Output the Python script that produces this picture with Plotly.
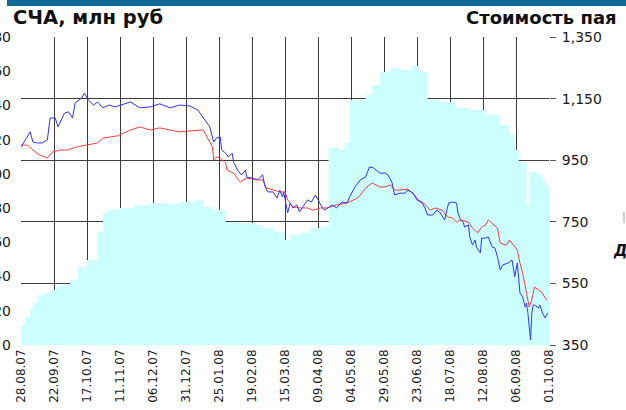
import plotly.graph_objects as go
from datetime import datetime, timedelta

# ---------------- data ----------------
start_date = "28.08.07"
tick_labels = ["28.08.07", "22.09.07", "17.10.07", "11.11.07", "06.12.07", "31.12.07",
               "25.01.08", "19.02.08", "15.03.08", "09.04.08", "04.05.08", "29.05.08",
               "23.06.08", "18.07.08", "12.08.08", "06.09.08", "01.10.08"]

left_ticks = [0, 20, 40, 60, 80, 100, 120, 140, 160, 180]
right_ticks = [350, 550, 750, 950, 1150, 1350]
right_tick_labels = ["350", "550", "750", "950", "1,150", "1,350"]

# СЧА, млн руб (area, left axis) — days since start_date
nav_days = [0, 3, 7, 9, 13, 17, 22, 26, 31, 37, 43, 50, 58, 62, 65, 75, 86, 98, 109, 120,
            132, 138, 145, 155, 166, 177, 183, 192, 200, 204, 211, 219, 227, 233, 242, 245,
            249, 261, 266, 272, 280, 287, 296, 302, 308, 317, 329, 340, 352, 363, 370, 374,
            377, 383, 385, 392, 395, 397, 400]
nav_values = [11.7, 16.4, 21.6, 24.5, 29.2, 30.4, 32.1, 33.9, 35.1, 38.0, 45.6, 49.7, 66.0,
              77.1, 78.9, 80.1, 81.8, 83.0, 82.4, 83.6, 84.7, 80.6, 78.9, 71.9, 71.3, 70.1,
              68.4, 66.0, 61.4, 64.3, 65.5, 68.4, 69.0, 115.1, 114.0, 118.0, 143.2, 146.1,
              152.0, 159.5, 161.9, 160.7, 163.0, 159.5, 143.2, 142.0, 138.5, 137.3, 134.4,
              128.6, 122.7, 114.0, 107.0, 81.8, 101.0, 99.3, 96.4, 93.5, 91.7]

# Стоимость пая (blue line, right axis)
blue_days = [0, 7, 9, 12, 16, 20, 22, 26, 28, 31, 33, 36, 39, 41, 46, 48, 51, 55, 58, 62,
             67, 71, 75, 83, 90, 98, 105, 113, 120, 128, 134, 139, 143, 145, 146, 148, 151,
             152, 155, 157, 160, 161, 164, 167, 170, 171, 175, 179, 183, 185, 187, 191, 194,
             196, 198, 199, 202, 204, 206, 209, 211, 217, 220, 223, 225, 228, 230, 233, 236,
             239, 243, 247, 249, 253, 257, 261, 264, 267, 272, 276, 278, 281, 283, 287, 291,
             293, 297, 300, 304, 306, 308, 312, 315, 317, 321, 323, 324, 327, 330, 331, 333,
             335, 336, 339, 340, 342, 344, 345, 348, 349, 352, 354, 357, 359, 361, 363, 365,
             369, 372, 373, 374, 376, 377, 378, 380, 382, 383, 384, 386, 387, 388, 389, 392,
             393, 395, 397, 399]
blue_values = [993, 1042, 1009, 1006, 1006, 1016, 1087, 1087, 1058, 1087, 1103, 1107, 1087,
               1136, 1152, 1168, 1145, 1129, 1139, 1120, 1129, 1123, 1129, 1139, 1120, 1123,
               1133, 1120, 1129, 1126, 1113, 1081, 1058, 1025, 1009, 1022, 1025, 983, 973,
               960, 973, 944, 918, 902, 918, 895, 892, 886, 902, 863, 847, 847, 827, 853,
               831, 847, 779, 811, 795, 805, 782, 821, 814, 837, 821, 798, 788, 798, 805,
               795, 814, 811, 831, 863, 886, 895, 928, 925, 908, 908, 902, 879, 837, 843,
               843, 853, 843, 821, 811, 795, 772, 772, 788, 782, 756, 795, 811, 814, 811,
               779, 756, 749, 733, 740, 701, 675, 691, 668, 649, 697, 697, 701, 668, 665,
               636, 594, 610, 616, 626, 600, 571, 616, 551, 519, 506, 473, 486, 454, 366,
               454, 480, 480, 470, 480, 454, 438, 454]

# Индекс (red line, right axis)
red_days = [0, 5, 9, 14, 20, 24, 30, 35, 42, 51, 58, 62, 67, 73, 83, 90, 98, 105, 113, 120,
            128, 138, 141, 145, 146, 148, 151, 155, 156, 161, 166, 171, 179, 183, 186, 191,
            196, 200, 202, 206, 211, 217, 221, 227, 232, 239, 247, 255, 262, 266, 272, 276,
            280, 283, 287, 293, 297, 301, 305, 310, 314, 319, 323, 327, 330, 333, 339, 342,
            346, 349, 352, 354, 358, 361, 363, 367, 369, 370, 373, 376, 378, 380, 383, 385,
            387, 389, 392, 395, 397, 399]
red_values = [999, 999, 983, 967, 957, 977, 983, 983, 993, 999, 1006, 1022, 1025, 1029,
              1048, 1058, 1048, 1055, 1048, 1042, 1045, 1048, 1025, 993, 951, 960, 957, 941,
              918, 908, 879, 892, 886, 886, 860, 853, 847, 847, 821, 798, 795, 795, 788,
              795, 795, 805, 811, 827, 863, 876, 863, 863, 870, 853, 853, 856, 843, 821,
              811, 788, 795, 788, 766, 762, 749, 756, 749, 730, 714, 733, 740, 756, 740,
              730, 681, 675, 681, 691, 675, 658, 616, 584, 519, 473, 496, 538, 529, 519,
              503, 496]

# ---------------- build ----------------
t0 = datetime.strptime(start_date, "%d.%m.%y")
to_dates = lambda days: [t0 + timedelta(days=d) for d in days]
tick_vals = [datetime.strptime(s, "%d.%m.%y") for s in tick_labels]

W, H = 626, 410
L, R, T, B = 21, 77, 37, 65
PW, PH = W - L - R, H - T - B


def px(x):
    return (x - L) / PW


def py(y):
    return (H - B - y) / PH


fig = go.Figure()
fig.add_trace(go.Scatter(x=to_dates(nav_days), y=nav_values, mode="lines", line_shape="hv",
                         fill="tozeroy", fillcolor="#ccffff", line=dict(width=0, color="#ccffff"),
                         name="СЧА", yaxis="y", hoverinfo="skip"))
fig.add_trace(go.Scatter(x=to_dates(red_days), y=red_values, mode="lines",
                         line=dict(color="#ff3c3c", width=1), name="Индекс", yaxis="y2"))
fig.add_trace(go.Scatter(x=to_dates(blue_days), y=blue_values, mode="lines",
                         line=dict(color="#3232ff", width=1), name="Стоимость пая", yaxis="y2"))

grid = "#3c3c3c"
fig.update_layout(
    width=W, height=H, margin=dict(l=L, r=R, t=T, b=B, pad=0, autoexpand=False),
    paper_bgcolor="white", plot_bgcolor="white", showlegend=False,
    font=dict(family="DejaVu Sans", color="#1a1a1a"),
    xaxis=dict(type="date", range=[tick_vals[0], tick_vals[-1]], tickvals=tick_vals,
               ticktext=tick_labels, tickangle=-90, tickfont=dict(size=12, family="DejaVu Sans"),
               showgrid=True, gridcolor=grid, gridwidth=1, zeroline=False, showline=False,
               ticks="", ticklabelstandoff=1, automargin=False),
    yaxis=dict(range=[0, 180], tickvals=left_ticks, ticktext=[str(v) for v in left_ticks],
               tickfont=dict(size=14, family="DejaVu Sans"), showgrid=False, zeroline=False,
               showline=False, ticks="", ticklabelstandoff=9, automargin=False),
    yaxis2=dict(range=[350, 1350], overlaying="y", side="right", tickvals=right_ticks,
                ticktext=right_tick_labels, tickfont=dict(size=14, family="DejaVu Sans"),
                showgrid=True, gridcolor=grid, gridwidth=1, zeroline=False, showline=False,
                ticks="outside", ticklen=6, tickcolor="#555555", ticklabelstandoff=3,
                automargin=False),
    shapes=[
        dict(type="rect", xref="paper", yref="paper", x0=px(7), x1=px(626), y0=py(6), y1=py(0),
             fillcolor="#106894", line=dict(width=0), layer="above"),
        dict(type="line", xref="paper", yref="paper", x0=px(624), x1=px(624), y0=py(212),
             y1=py(223), line=dict(color="#bbbbbb", width=1.5)),
    ],
    annotations=[
        dict(text="СЧА, млн руб", xref="paper", yref="paper", x=px(11), y=py(18),
             xanchor="left", yanchor="middle", showarrow=False,
             font=dict(family="DejaVu Sans", size=19.5, color="#111111", weight="bold")),
        dict(text="Стоимость пая", xref="paper", yref="paper", x=px(619), y=py(18),
             xanchor="right", yanchor="middle", showarrow=False,
             font=dict(family="DejaVu Sans", size=18, color="#111111", weight="bold")),
        dict(text="<b><i>Д</i></b>", xref="paper", yref="paper", x=px(629), y=py(251),
             xanchor="right", yanchor="middle", showarrow=False,
             font=dict(family="DejaVu Sans", size=15, color="#111111")),
    ],
)

fig.write_html("out.html", config={"displayModeBar": False},
               post_script="document.body.style.margin='0px';document.body.style.overflow='hidden';")
